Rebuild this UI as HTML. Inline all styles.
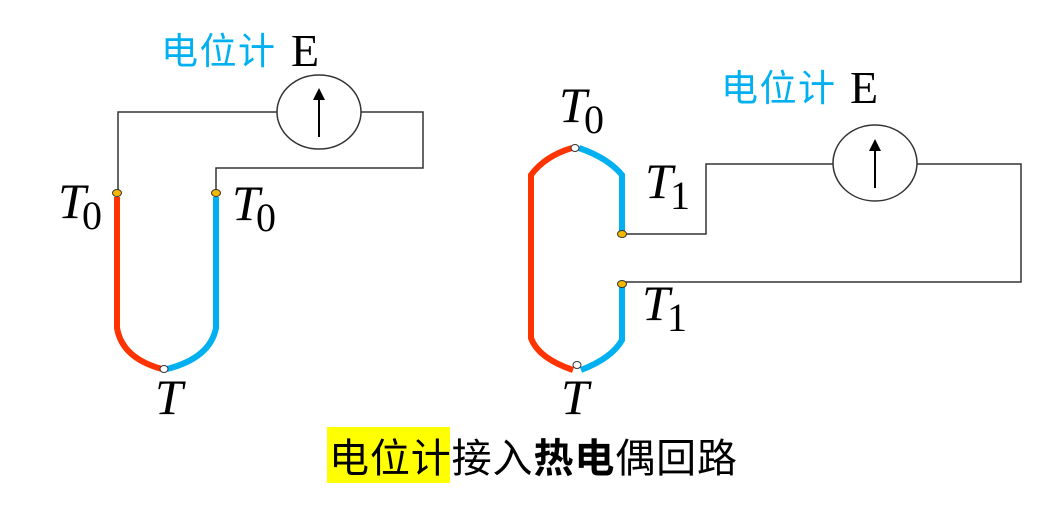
<!DOCTYPE html>
<html><head><meta charset="utf-8"><style>
html,body{margin:0;padding:0;background:#fff;}
svg{display:block;}
.t{font-family:"Liberation Serif",serif;font-style:italic;font-size:50px;fill:#000;}
.s{font-family:"Liberation Serif",serif;font-size:40px;fill:#000;}
.c{font-family:"Liberation Sans","Noto Sans CJK SC",sans-serif;font-size:37px;fill:#00b0f0;}
.e{font-family:"Liberation Serif",serif;font-size:46px;fill:#000;}
.b{font-family:"Liberation Sans","Noto Sans CJK SC",sans-serif;font-size:40px;fill:#000;}
</style></head><body>
<svg width="1063" height="511" viewBox="0 0 1063 511">
<g fill="none" stroke="#333" stroke-width="1.5">
<polyline points="118,193 118,112 277,112"/>
<polyline points="361,112 423,112 423,168 216,168 216,193"/>
<ellipse cx="319" cy="112" rx="42" ry="37"/>
<polyline points="626,234 706,234 706,164 833,164"/>
<polyline points="917,164 1021,164 1021,282 626,282"/>
<ellipse cx="875" cy="163" rx="42" ry="38"/>
</g>
<g stroke="#000" stroke-width="2"><line x1="319" y1="137" x2="319" y2="96"/><line x1="875" y1="188" x2="875" y2="148"/></g>
<polygon points="319,88 313,100 325,100" fill="#000"/>
<polygon points="875,139 869,151 881,151" fill="#000"/>
<g fill="none" stroke-width="6">
<path d="M117,197 V328 Q122,358 162,369" stroke="#ff3300"/>
<path d="M216,197 V328 Q210,358 167,369" stroke="#00b0f0"/>
<path d="M572,148 Q545,156 531,175 V338 Q538,358 573,370" stroke="#ff3300"/>
<path d="M579,148 Q608,158 622,175 V232" stroke="#00b0f0"/>
<path d="M622,286 V340 Q612,358 581,370" stroke="#00b0f0"/>
</g>
<g fill="#f5b800" stroke="#333" stroke-width="1">
<ellipse cx="117" cy="193" rx="4.5" ry="3.5"/><ellipse cx="216" cy="193" rx="4.5" ry="3.5"/>
<ellipse cx="622" cy="234" rx="4.5" ry="3.5"/><ellipse cx="622" cy="284" rx="4.5" ry="3.5"/>
</g>
<g fill="#fff" stroke="#333" stroke-width="1">
<ellipse cx="164" cy="369" rx="4" ry="3.5"/><ellipse cx="575" cy="148" rx="4" ry="3.5"/><ellipse cx="577" cy="365" rx="4" ry="3.5"/>
</g>
<text class="c" x="161" y="64" textLength="114">电位计</text><text class="e" x="291" y="66">E</text>
<text class="c" x="721" y="101" textLength="114">电位计</text><text class="e" x="850" y="103">E</text>
<text class="t" x="58" y="218">T</text><text class="s" x="82" y="229">0</text>
<text class="t" x="232" y="220">T</text><text class="s" x="256" y="231">0</text>
<text class="t" x="155" y="414">T</text>
<text class="t" x="559" y="122">T</text><text class="s" x="584" y="133">0</text>
<text class="t" x="645" y="198">T</text><text class="s" x="670" y="209">1</text>
<text class="t" x="642" y="320">T</text><text class="s" x="667" y="331">1</text>
<text class="t" x="561" y="414">T</text>
<rect x="327" y="427" width="123" height="56" fill="#ffff00"/>
<text class="b" x="329" y="472" textLength="408" lengthAdjust="spacing">电位计接入<tspan font-weight="bold">热电</tspan>偶回路</text>
</svg>
</body></html>
